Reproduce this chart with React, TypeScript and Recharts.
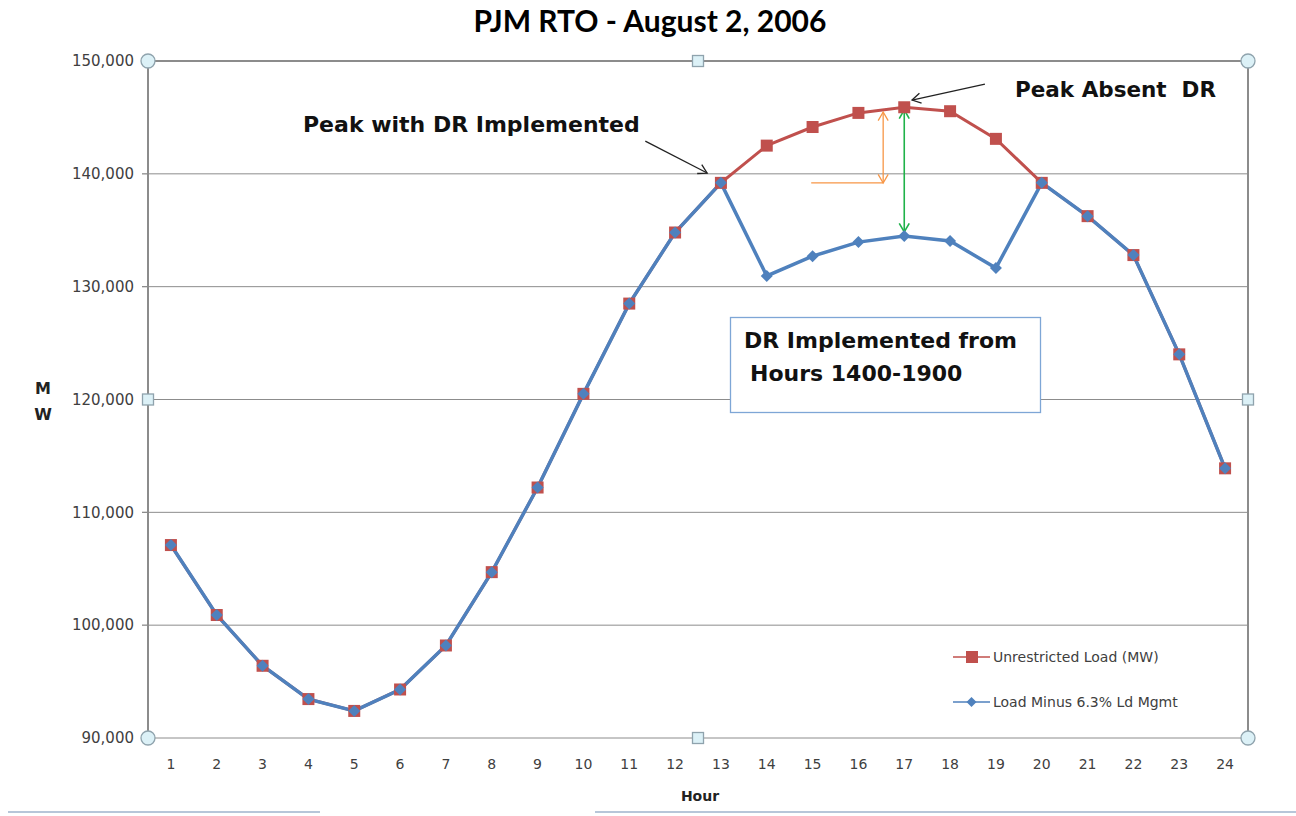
import React from 'react';
import {
  LineChart, Line, XAxis, YAxis, CartesianGrid, ReferenceLine, ReferenceDot, Legend
} from 'recharts';

// hours of the day (x categories)
const hours = [1, 2, 3, 4, 5, 6, 7, 8, 9, 10, 11, 12, 13, 14, 15, 16, 17, 18, 19, 20, 21, 22, 23, 24];

// MW values
const unrestrictedLoad = [
  107100, 100900, 96400, 93450, 92400, 94300, 98200, 104700, 112200, 120500, 128500, 134800,
  139200, 142500, 144150, 145400, 145900, 145550, 143100, 139200, 136250, 132800, 124000, 113900,
];
const loadMinusMgmt = [
  107100, 100900, 96400, 93450, 92400, 94300, 98200, 104700, 112200, 120500, 128500, 134800,
  139200, 130950, 132700, 133950, 134500, 134050, 131650, 139200, 136250, 132800, 124000, 113900,
];

const yTicks = [90000, 100000, 110000, 120000, 130000, 140000, 150000];
const hourTicks = hours;
const bandEdges = [0.5, ...hours.map((h) => h + 0.5)];

const seriesNames = ['Unrestricted Load (MW)', 'Load Minus 6.3% Ld Mgmt'];

// annotation arrows, in data units (hour, MW)
const peakWithDrArrow = [{ x: 11.35, y: 142900 }, { x: 12.7, y: 140070 }];
const peakAbsentArrow = [{ x: 18.76, y: 147960 }, { x: 17.17, y: 146540 }];
const orangeBase = [{ x: 14.97, y: 139190 }, { x: 16.54, y: 139190 }];
const orangeRise = [{ x: 16.54, y: 139190 }, { x: 16.54, y: 145480 }];
const greenDrop = [{ x: 17.0, y: 145660 }, { x: 17.0, y: 134850 }];

// selection handles at plot corners / mid edges
const handles = [
  { x: 0.5, y: 150000, kind: 'circle' },
  { x: 24.5, y: 150000, kind: 'circle' },
  { x: 0.5, y: 90000, kind: 'circle' },
  { x: 24.5, y: 90000, kind: 'circle' },
  { x: 12.5, y: 150000, kind: 'square' },
  { x: 12.5, y: 90000, kind: 'square' },
  { x: 0.5, y: 120000, kind: 'square' },
  { x: 24.5, y: 120000, kind: 'square' },
];

const data = hours.map((h, i) => ({
  hour: h,
  unrestricted: unrestrictedLoad[i],
  managed: loadMinusMgmt[i],
}));

const RED = '#c0504d';
const BLUE = '#4f81bd';
const GRID = '#8c8c8c';
const TEXT = '#404040';
const FONT = '"DejaVu Sans", Verdana, sans-serif';

const SquareDot = (props: any) => {
  const { cx, cy } = props;
  if (cx == null || cy == null) return null;
  return <rect key={`s${cx}`} x={cx - 6} y={cy - 6} width={12} height={12} fill={RED} />;
};

const DiamondDot = (props: any) => {
  const { cx, cy } = props;
  if (cx == null || cy == null) return null;
  const r = 6;
  return (
    <polygon
      key={`d${cx}`}
      points={`${cx},${cy - r} ${cx + r},${cy} ${cx},${cy + r} ${cx - r},${cy}`}
      fill={BLUE}
    />
  );
};

const makeArrow = (color: string, startHead: boolean, endHead: boolean, width = 1.3) => (p: any) => {
  const { x1, y1, x2, y2 } = p;
  const ang = Math.atan2(y2 - y1, x2 - x1);
  const len = 10;
  const spread = Math.PI / 6;
  const head = (x: number, y: number, a: number) => (
    <polyline
      points={`${x + len * Math.cos(a + Math.PI - spread)},${y + len * Math.sin(a + Math.PI - spread)} ${x},${y} ${x + len * Math.cos(a + Math.PI + spread)},${y + len * Math.sin(a + Math.PI + spread)}`}
      fill="none"
      stroke={color}
      strokeWidth={width}
    />
  );
  return (
    <g>
      <line x1={x1} y1={y1} x2={x2} y2={y2} stroke={color} strokeWidth={width} />
      {endHead && head(x2, y2, ang)}
      {startHead && head(x1, y1, ang + Math.PI)}
    </g>
  );
};

const Handle = (kind: string) => (p: any) => {
  const { cx, cy } = p;
  if (kind === 'circle') {
    return <circle cx={cx} cy={cy} r={7} fill="#dcf1f7" stroke="#8fa3ad" strokeWidth={1.3} />;
  }
  return <rect x={cx - 5.5} y={cy - 5.5} width={11} height={11} fill="#dcf1f7" stroke="#8fa3ad" strokeWidth={1.3} />;
};

const LegendBox = () => (
  <svg width={280} height={80} style={{ overflow: 'visible' }}>
    <line x1={13} y1={17} x2={50} y2={17} stroke={RED} strokeWidth={1.5} />
    <rect x={26} y={11} width={12} height={12} fill={RED} />
    <text x={53} y={22} fontFamily={FONT} fontSize={14} fill={TEXT}>{seriesNames[0]}</text>
    <line x1={13} y1={62} x2={50} y2={62} stroke={BLUE} strokeWidth={1.5} />
    <polygon points="31.5,57 36.5,62 31.5,67 26.5,62" fill={BLUE} />
    <text x={53} y={67} fontFamily={FONT} fontSize={14} fill={TEXT}>{seriesNames[1]}</text>
  </svg>
);

export default function App() {
  return (
    <div style={{ position: 'absolute', left: 0, top: 0, width: 1296, height: 816, background: '#fff' }}>
      <LineChart
        width={1296}
        height={816}
        data={data}
        margin={{ top: 61, right: 48, left: 0, bottom: 0 }}
      >
        <CartesianGrid xAxisId="lab" vertical={false} stroke={GRID} strokeWidth={1} />
        <XAxis
          xAxisId="marks"
          type="number"
          dataKey="hour"
          domain={[0.5, 24.5]}
          ticks={bandEdges}
          height={0}
          tick={false}
          tickSize={6}
          tickLine={{ stroke: GRID, strokeWidth: 1.3 }}
          axisLine={{ stroke: GRID, strokeWidth: 2 }}
        />
        <XAxis
          xAxisId="lab"
          type="number"
          dataKey="hour"
          domain={[0.5, 24.5]}
          ticks={hourTicks}
          interval={0}
          height={78}
          axisLine={false}
          tickLine={false}
          tickSize={6}
          tickMargin={15}
          tick={{ fontFamily: FONT, fontSize: 14, fill: TEXT }}
        />
        <YAxis
          domain={[90000, 150000]}
          ticks={yTicks}
          width={148}
          tickSize={6}
          tickMargin={8}
          tickLine={{ stroke: GRID, strokeWidth: 1.3 }}
          axisLine={{ stroke: GRID, strokeWidth: 2 }}
          tick={{ fontFamily: FONT, fontSize: 15, fill: TEXT }}
          tickFormatter={(v: number) => v.toLocaleString('en-US')}
        />
        <ReferenceLine xAxisId="lab" y={150000} stroke={GRID} strokeWidth={2} />
        <ReferenceLine xAxisId="lab" x={24.5} stroke={GRID} strokeWidth={2} />

        <Line
          xAxisId="lab"
          dataKey="unrestricted"
          name={seriesNames[0]}
          stroke={RED}
          strokeWidth={3}
          dot={<SquareDot />}
          activeDot={false}
          isAnimationActive={false}
        />
        <Line
          xAxisId="lab"
          dataKey="managed"
          name={seriesNames[1]}
          stroke={BLUE}
          strokeWidth={3.5}
          dot={<DiamondDot />}
          activeDot={false}
          isAnimationActive={false}
        />

        <ReferenceLine xAxisId="lab" segment={peakWithDrArrow} ifOverflow="visible" shape={makeArrow('#222', false, true)} />
        <ReferenceLine xAxisId="lab" segment={peakAbsentArrow} ifOverflow="visible" shape={makeArrow('#222', false, true)} />
        <ReferenceLine xAxisId="lab" segment={orangeBase} ifOverflow="visible" shape={makeArrow('#f79646', false, false)} />
        <ReferenceLine xAxisId="lab" segment={orangeRise} ifOverflow="visible" shape={makeArrow('#f79646', true, true)} />
        <ReferenceLine xAxisId="lab" segment={greenDrop} ifOverflow="visible" shape={makeArrow('#1fb24a', true, true, 1.6)} />

        {handles.map((h, i) => (
          <ReferenceDot key={i} xAxisId="lab" x={h.x} y={h.y} ifOverflow="visible" shape={Handle(h.kind)} />
        ))}

        <Legend
          layout="vertical"
          align="center"
          verticalAlign="middle"
          content={<LegendBox />}
          wrapperStyle={{ position: 'absolute', left: 940, top: 640, width: 280, height: 80 }}
        />
      </LineChart>

      <svg
        width={1296}
        height={816}
        style={{ position: 'absolute', left: 0, top: 0, pointerEvents: 'none' }}
      >
        <text x={650} y={32} textAnchor="middle" fontFamily="Lato, sans-serif" fontWeight="bold" fontSize={30} fill="#000">
          PJM RTO - August 2, 2006
        </text>
        <text x={43} y={394} textAnchor="middle" fontFamily={FONT} fontWeight="bold" fontSize={16} fill="#222">M</text>
        <text x={43} y={420} textAnchor="middle" fontFamily={FONT} fontWeight="bold" fontSize={16} fill="#222">W</text>
        <text x={700} y={801} textAnchor="middle" fontFamily={FONT} fontWeight="bold" fontSize={14} fill="#222">Hour</text>

        <text x={303} y={132} fontFamily={FONT} fontWeight="bold" fontSize={22} fill="#111">Peak with DR Implemented</text>
        <text x={1015} y={97} fontFamily={FONT} fontWeight="bold" fontSize={21.5} fill="#111" style={{ whiteSpace: 'pre' }}>Peak Absent  DR</text>

        <rect x={730.5} y={317.5} width={310} height={95} fill="#fff" stroke="#7ea6d6" strokeWidth={1.3} />
        <text x={744} y={348} fontFamily={FONT} fontWeight="bold" fontSize={22} fill="#111">DR Implemented from</text>
        <text x={750} y={381} fontFamily={FONT} fontWeight="bold" fontSize={22} fill="#111">Hours 1400-1900</text>

        <line x1={8} y1={812} x2={320} y2={812} stroke="#b7c6d9" strokeWidth={2} />
        <line x1={595} y1={812} x2={1296} y2={812} stroke="#b7c6d9" strokeWidth={2} />
      </svg>
    </div>
  );
}
